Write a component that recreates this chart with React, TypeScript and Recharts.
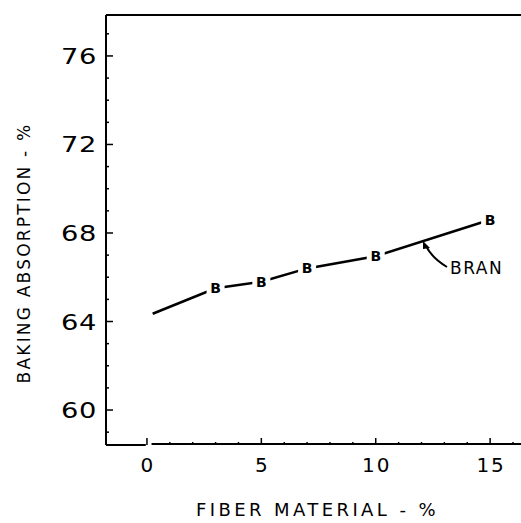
import * as React from 'react';
import {
  LineChart,
  Line,
  XAxis,
  YAxis,
  ReferenceLine,
  Customized,
} from 'recharts';

const fiberPct = [0.25, 3, 5, 7, 10, 15];
const absorption = [64.35, 65.5, 65.8, 66.4, 66.95, 68.6];
const marked = [false, true, true, true, true, true];

const xTicks = [0, 1, 2, 3, 4, 5, 6, 7, 8, 9, 10, 11, 12, 13, 14, 15, 16];
const yTicks = [59, 60, 61, 62, 63, 64, 65, 66, 67, 68, 69, 70, 71, 72, 73, 74, 75, 76, 77];
const xLabeled = [0, 5, 10, 15];
const yLabeled = [60, 64, 68, 72, 76];

const X_MIN = -1.79;
const X_MAX = 16.35;
const Y_MIN = 58.42;
const Y_MAX = 77.85;

const data = fiberPct.map((x, i) => ({ x, y: absorption[i], mark: marked[i] }));

const font = '"DejaVu Sans", "Liberation Sans", sans-serif';

const XTick = ({ x, y, payload }: any) => {
  const major = xLabeled.includes(payload.value);
  return (
    <g>
      <line x1={x} y1={y} x2={x} y2={y - (major ? 7 : 3)} stroke="#000" strokeWidth={1.5} />
      {major && (
        <text
          x={x + 1}
          y={y + 27}
          textAnchor="middle"
          fontFamily={font}
          fontSize={20}
          letterSpacing={2}
          fill="#000"
        >
          {payload.value}
        </text>
      )}
    </g>
  );
};

const YTick = ({ x, y, payload }: any) => {
  const major = yLabeled.includes(payload.value);
  return (
    <g>
      <line x1={x} y1={y} x2={x + (major ? 7 : 3)} y2={y} stroke="#000" strokeWidth={1.5} />
      {major && (
        <text
          transform={`translate(${x - 9},${y + 8}) scale(1.3,1)`}
          textAnchor="end"
          fontFamily={font}
          fontSize={21}
          letterSpacing={0.5}
          fill="#000"
        >
          {payload.value}
        </text>
      )}
    </g>
  );
};

const BDot = ({ cx, cy, payload }: any) => {
  if (!payload.mark) return <g key={`d-${cx}`} />;
  return (
    <g key={`d-${cx}`}>
      <rect x={cx - 9} y={cy - 8} width={18} height={16} fill="#fff" />
      <text
        x={cx}
        y={cy + 5}
        textAnchor="middle"
        fontFamily={font}
        fontSize={14}
        fontWeight="bold"
        fill="#000"
      >
        B
      </text>
    </g>
  );
};

// arrow pointing from the BRAN label to the curve
const BranNote = () => (
  <g>
    <path d="M447,267 Q432,258 426,246" fill="none" stroke="#000" strokeWidth={2} />
    <path d="M423,241 L430,248 L423,249 Z" fill="#000" />
    <text x={450} y={274} fontFamily={font} fontSize={17} letterSpacing={1.5} fill="#000">
      BRAN
    </text>
  </g>
);

export default function App() {
  return (
    <div style={{ position: 'absolute', left: 0, top: 0 }}>
      <LineChart
        width={521}
        height={523}
        data={data}
        margin={{ top: 15, right: 0, bottom: 0, left: 0 }}
      >
        <XAxis
          type="number"
          dataKey="x"
          domain={[X_MIN, X_MAX]}
          allowDataOverflow
          ticks={xTicks}
          interval={0}
          axisLine={false}
          tickLine={false}
          tickSize={0}
          tickMargin={0}
          tick={<XTick />}
          height={78}
          label={{
            value: 'FIBER MATERIAL - %',
            position: 'insideBottom',
            offset: 7,
            dx: 4,
            style: { fontFamily: font, fontSize: 18, letterSpacing: 3.4, fill: '#000' },
          }}
        />
        <YAxis
          type="number"
          domain={[Y_MIN, Y_MAX]}
          allowDataOverflow
          ticks={yTicks}
          interval={0}
          axisLine={{ stroke: '#000', strokeWidth: 2 }}
          tickLine={false}
          tickSize={0}
          tickMargin={0}
          tick={<YTick />}
          width={106}
          label={{
            value: 'BAKING ABSORPTION - %',
            angle: -90,
            position: 'insideLeft',
            offset: 24,
            dy: 23,
            style: {
              fontFamily: font,
              fontSize: 17,
              letterSpacing: 2.2,
              fill: '#000',
              textAnchor: 'middle',
            },
          }}
        />
        <ReferenceLine y={Y_MAX} stroke="#000" strokeWidth={2} />
        <ReferenceLine
          segment={[
            { x: X_MIN, y: Y_MIN },
            { x: -0.05, y: Y_MIN },
          ]}
          stroke="#000"
          strokeWidth={2}
        />
        <ReferenceLine
          segment={[
            { x: 0.2, y: Y_MIN + 0.05 },
            { x: X_MAX, y: Y_MIN + 0.05 },
          ]}
          stroke="#000"
          strokeWidth={2}
        />
        <Line
          type="linear"
          dataKey="y"
          stroke="#000"
          strokeWidth={2.5}
          dot={<BDot />}
          activeDot={false}
          isAnimationActive={false}
        />
        <Customized component={BranNote} />
      </LineChart>
    </div>
  );
}
